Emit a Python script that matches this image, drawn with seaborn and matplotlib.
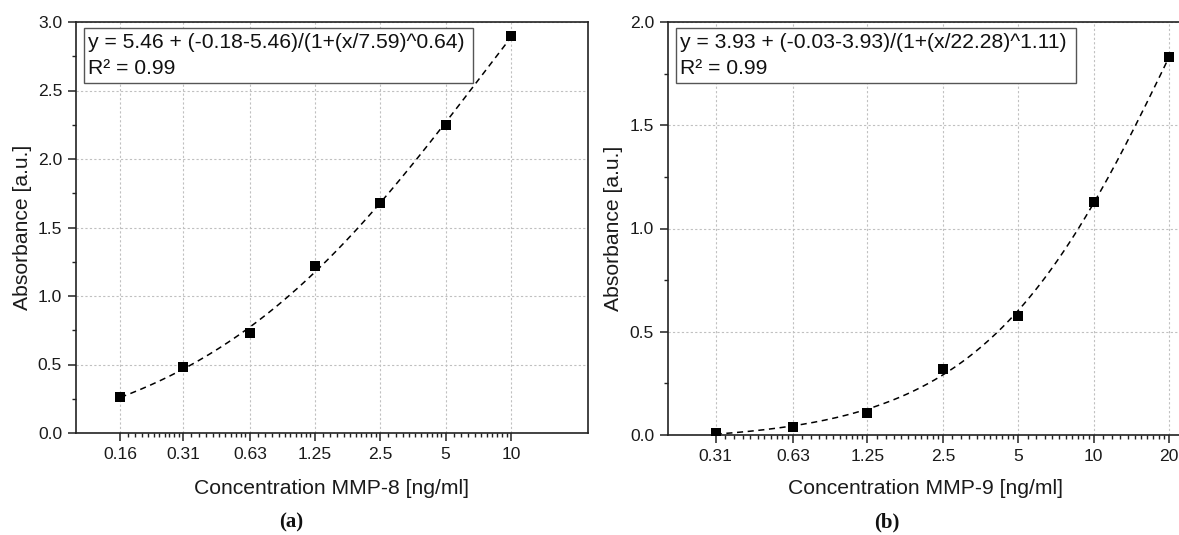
"""Standard curves for MMP-8 and MMP-9 ELISA (absorbance vs concentration)."""

import matplotlib

matplotlib.use("Agg")

import matplotlib.pyplot as plt  # noqa: E402
import numpy as np  # noqa: E402
import seaborn as sns  # noqa: E402
from matplotlib.patches import Rectangle  # noqa: E402
from matplotlib.ticker import (  # noqa: E402
    FixedLocator,
    FormatStrFormatter,
    MultipleLocator,
    NullFormatter,
)

# --- data -----------------------------------------------------------------
mmp8_conc = [0.16, 0.31, 0.63, 1.25, 2.5, 5, 10]
mmp8_abs = [0.266, 0.484, 0.733, 1.219, 1.681, 2.250, 2.896]
mmp8_ticks = ["0.16", "0.31", "0.63", "1.25", "2.5", "5", "10"]
# 4PL fit: y = top + (bottom - top) / (1 + (x / c)^h)
mmp8_fit = {"top": 5.46, "bottom": -0.18, "c": 7.59, "h": 0.64}
mmp8_eq = "y = 5.46 + (-0.18-5.46)/(1+(x/7.59)^0.64)"

mmp9_conc = [0.31, 0.63, 1.25, 2.5, 5, 10, 20]
mmp9_abs = [0.012, 0.038, 0.107, 0.320, 0.574, 1.129, 1.830]
mmp9_ticks = ["0.31", "0.63", "1.25", "2.5", "5", "10", "20"]
mmp9_fit = {"top": 3.93, "bottom": -0.03, "c": 22.28, "h": 1.11}
mmp9_eq = "y = 3.93 + (-0.03-3.93)/(1+(x/22.28)^1.11)"

r2_text = "R² = 0.99"

sns.set_theme(style="white")
plt.rcParams["font.family"] = ["Liberation Sans", "DejaVu Sans"]

W, H = 1179, 535
fig = plt.figure(figsize=(W / 100, H / 100), dpi=100)
fig.patch.set_facecolor("white")


def fig_rect(x0, y0, x1, y1):
    """Pixel box (top-left origin) -> figure fraction rect."""
    return [x0 / W, 1 - y1 / H, (x1 - x0) / W, (y1 - y0) / H]


def four_pl(x, p):
    return p["top"] + (p["bottom"] - p["top"]) / (1 + (x / p["c"]) ** p["h"])


def draw_panel(ax, conc, absb, ticks, fit, eq, xlim, ylim, xlabel, box_px, ax_px, ylab_x):
    xfit = np.geomspace(conc[0], conc[-1], 200)
    sns.lineplot(x=xfit, y=four_pl(xfit, fit), ax=ax, color="black", lw=1.1)
    ax.lines[-1].set_dashes([4, 3])
    sns.scatterplot(x=conc, y=absb, ax=ax, marker="s", s=44, color="black",
                    linewidth=0, zorder=5)

    ax.set_xscale("log")
    ax.set_xlim(*xlim)
    ax.set_ylim(*ylim)
    ax.xaxis.set_major_locator(FixedLocator(conc))
    ax.set_xticklabels(ticks)
    minors = np.concatenate([np.linspace(a, b, 12)[1:-1] for a, b in zip(conc[:-1], conc[1:])])
    ax.xaxis.set_minor_locator(FixedLocator(minors))
    ax.xaxis.set_minor_formatter(NullFormatter())
    ax.yaxis.set_major_locator(MultipleLocator(0.5))
    ax.yaxis.set_minor_locator(MultipleLocator(0.25))
    ax.yaxis.set_major_formatter(FormatStrFormatter("%.1f"))

    ax.grid(True, which="major", color="#c0c0c0", linestyle=(0, (2, 2)), lw=0.8)
    ax.tick_params(which="major", direction="out", length=6, width=1.1,
                   color="#222222", labelsize=12.6, labelcolor="#1a1a1a",
                   bottom=True, left=True, top=False, right=False, pad=4)
    ax.tick_params(which="minor", direction="out", length=3.2, width=1.0,
                   color="#222222", bottom=True, left=True, top=False, right=False)
    for sp in ax.spines.values():
        sp.set_visible(True)
        sp.set_color("#222222")
        sp.set_linewidth(1.2)

    ax_x0, ax_y0, ax_x1, ax_y1 = ax_px
    w, h = ax_x1 - ax_x0, ax_y1 - ax_y0
    ax.set_xlabel(xlabel, fontsize=15.2, color="#1a1a1a")
    ax.set_ylabel("Absorbance [a.u.]", fontsize=15.2, color="#1a1a1a")
    ax.xaxis.set_label_coords(0.5, -(479 - ax_y1) / h)
    ax.yaxis.set_label_coords(-(ax_x0 - ylab_x) / w, 0.5)

    # fit-equation box (pixel positions converted to axes fractions)
    bx0, by0, bx1, by1 = box_px
    ax.add_patch(Rectangle(((bx0 - ax_x0) / w, 1 - (by1 - ax_y0) / h),
                           (bx1 - bx0) / w, (by1 - by0) / h, transform=ax.transAxes,
                           facecolor="white", edgecolor="#555555", lw=1.0, zorder=6))
    tx = (bx0 + 4 - ax_x0) / w
    ax.text(tx, 1 - (43 - ax_y0) / h, eq, transform=ax.transAxes, fontsize=15.2,
            va="center", ha="left", color="#111111", zorder=7)
    ax.text(tx, 1 - (68 - ax_y0) / h, r2_text, transform=ax.transAxes, fontsize=15.2,
            va="center", ha="left", color="#111111", zorder=7)


left_px = (76, 22, 588, 433)
right_px = (668, 22, 1182, 435)
ax1 = fig.add_axes(fig_rect(*left_px))
ax2 = fig.add_axes(fig_rect(*right_px))

draw_panel(ax1, mmp8_conc, mmp8_abs, mmp8_ticks, mmp8_fit, mmp8_eq,
           (0.1, 22.6), (0, 3.0), "Concentration MMP-8 [ng/ml]", (84, 28, 473, 83),
           left_px, 32)
draw_panel(ax2, mmp9_conc, mmp9_abs, mmp9_ticks, mmp9_fit, mmp9_eq,
           (0.2, 22.5), (0, 2.0), "Concentration MMP-9 [ng/ml]", (676, 28, 1076, 83),
           right_px, 623)

for label, xc in (("(a)", 291), ("(b)", 887)):
    fig.text(xc / W, 1 - 522 / H, label, ha="center", va="center", fontsize=15,
             family=["Liberation Serif", "DejaVu Serif"], fontweight="bold",
             color="#111111")

fig.savefig("out.png", dpi=100, facecolor="white")
